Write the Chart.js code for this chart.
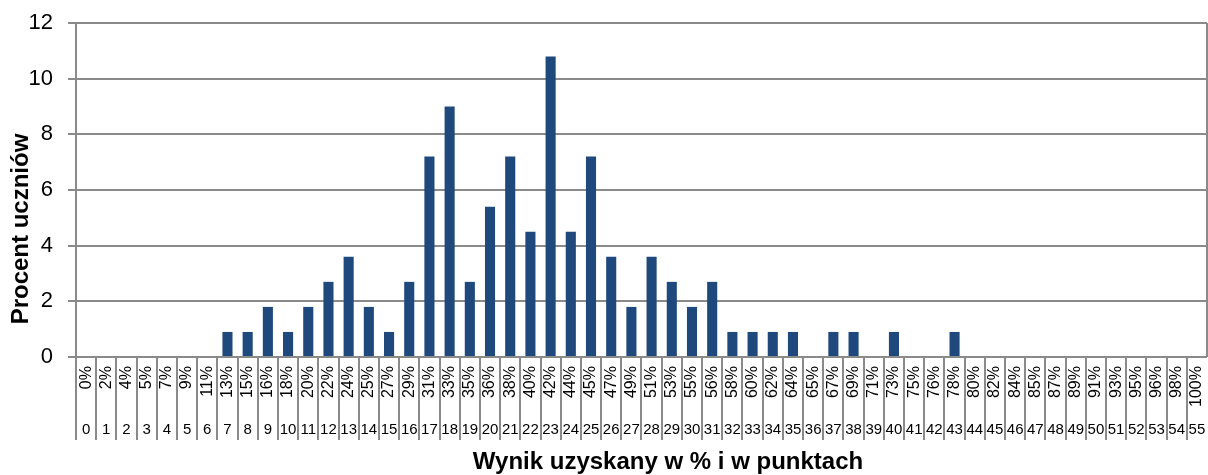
<!DOCTYPE html>
<html><head><meta charset="utf-8">
<script src="https://cdn.jsdelivr.net/npm/chart.js@4"></script>
<style>html,body{margin:0;padding:0;background:#fff;} canvas{display:block;}</style>
</head><body>
<canvas id="c" width="1208" height="475"></canvas>
<script>
const points = ['0','1','2','3','4','5','6','7','8','9','10','11','12','13','14','15','16','17','18','19','20','21','22','23','24','25','26','27','28','29','30','31','32','33','34','35','36','37','38','39','40','41','42','43','44','45','46','47','48','49','50','51','52','53','54','55'];
const percentLabels = ['0%','2%','4%','5%','7%','9%','11%','13%','15%','16%','18%','20%','22%','24%','25%','27%','29%','31%','33%','35%','36%','38%','40%','42%','44%','45%','47%','49%','51%','53%','55%','56%','58%','60%','62%','64%','65%','67%','69%','71%','73%','75%','76%','78%','80%','82%','84%','85%','87%','89%','91%','93%','95%','96%','98%','100%'];
const studentPercent = [0,0,0,0,0,0,0,0.9,0.9,1.8,0.9,1.8,2.7,3.6,1.8,0.9,2.7,7.2,9.0,2.7,5.4,7.2,4.5,10.8,4.5,7.2,3.6,1.8,3.6,2.7,1.8,2.7,0.9,0.9,0.9,0.9,0,0.9,0.9,0,0.9,0,0,0.9,0,0,0,0,0,0,0,0,0,0,0,0];
const yMin = 0, yMax = 12, yStep = 2;
const xTitle = 'Wynik uzyskany w % i w punktach';
const yTitle = 'Procent uczniów';

const GRID = '#8a8a8a';
const FONT = "'Liberation Sans', Arial, sans-serif";

const decor = {
  id: 'decor',
  afterDraw(chart) {
    const {ctx, chartArea: a, scales} = chart;
    const x = scales.x, x2 = scales.x2;
    ctx.save();
    ctx.strokeStyle = GRID; ctx.lineWidth = 2;
    const half = (x.getPixelForValue(1) - x.getPixelForValue(0)) / 2;
    ctx.beginPath();
    for (let i = 0; i < percentLabels.length; i++) {
      const px = Math.round(x.getPixelForValue(i) - half);
      ctx.moveTo(px, a.bottom); ctx.lineTo(px, x2.bottom);
    }
    ctx.moveTo(a.right, a.top); ctx.lineTo(a.right, a.bottom);
    ctx.stroke();
    ctx.fillStyle = '#000';
    ctx.font = 'bold 24px ' + FONT;
    ctx.textAlign = 'center'; ctx.textBaseline = 'middle';
    ctx.fillText(xTitle, 668, 462);
    ctx.translate(21, 229); ctx.rotate(-Math.PI / 2);
    ctx.fillText(yTitle, 0, 0);
    ctx.restore();
  }
};

new Chart(document.getElementById('c'), {
  type: 'bar',
  data: {
    labels: percentLabels,
    datasets: [{
      data: studentPercent,
      backgroundColor: '#1F497D',
      borderWidth: 0,
      barPercentage: 0.5,
      categoryPercentage: 1.0
    }]
  },
  options: {
    responsive: false,
    animation: false,
    devicePixelRatio: 1,
    layout: { padding: { top: 23, right: 1, bottom: 35, left: 0 } },
    plugins: { legend: { display: false }, tooltip: { enabled: false }, title: { display: false } },
    scales: {
      y: {
        min: yMin, max: yMax,
        ticks: { stepSize: yStep, padding: 15, color: '#000', font: { size: 22, family: FONT } },
        grid: { color: GRID, lineWidth: 2, tickLength: 8 },
        border: { color: GRID, width: 2 },
        afterFit(s) { s.width = 76; s.paddingTop = 0; s.paddingBottom = 0; }
      },
      x: {
        position: 'bottom', weight: 0,
        ticks: { autoSkip: false, minRotation: 90, maxRotation: 90, padding: 9, color: '#000', font: { size: 16, family: FONT } },
        grid: { display: false, drawTicks: false },
        border: { display: false },
        afterFit(s) { s.height = 55; s.paddingLeft = 0; s.paddingRight = 0; }
      },
      x2: {
        type: 'category', labels: points, position: 'bottom', offset: true, weight: 1,
        ticks: { autoSkip: false, minRotation: 0, maxRotation: 0, padding: 9, color: '#000', font: { size: 15, family: FONT } },
        grid: { display: false, drawTicks: false },
        border: { display: false },
        afterFit(s) { s.height = 28; s.paddingLeft = 0; s.paddingRight = 0; }
      }
    }
  },
  plugins: [decor]
});
</script>
</body></html>
